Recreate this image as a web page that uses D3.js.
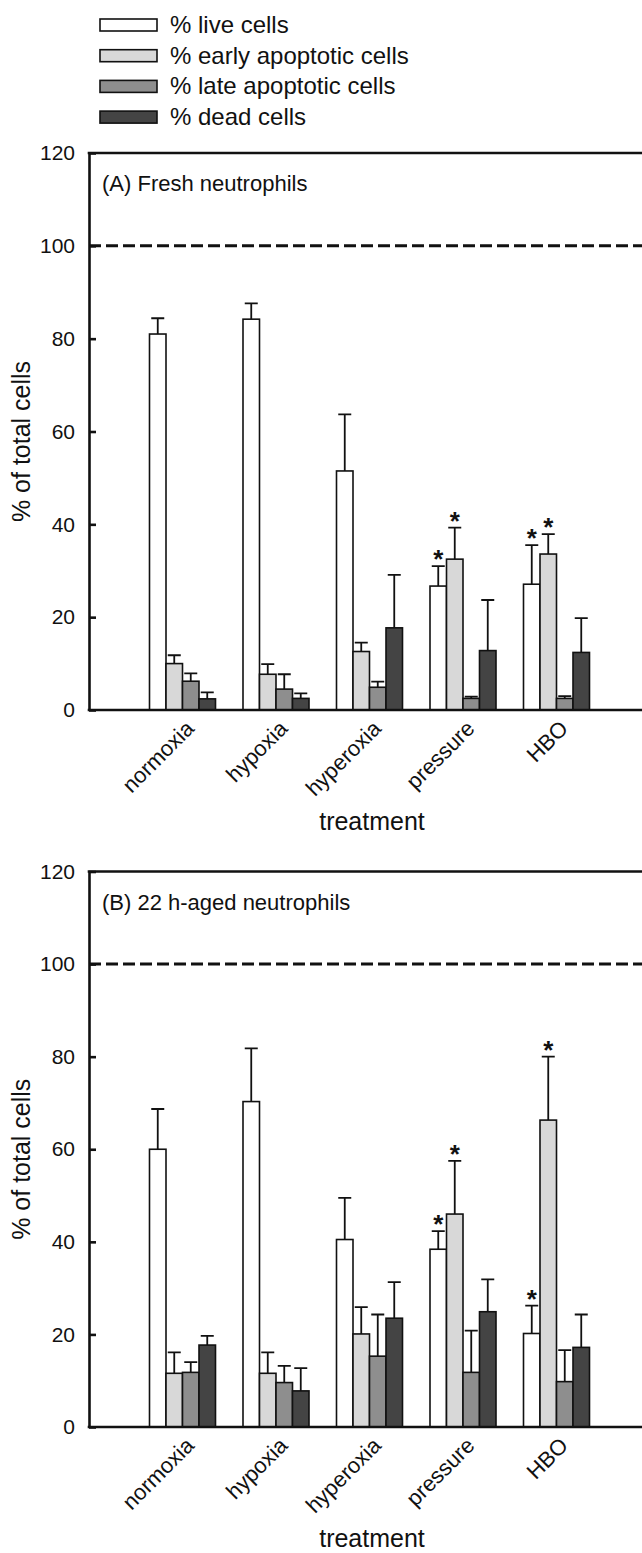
<!DOCTYPE html>
<html>
<head>
<meta charset="utf-8">
<script src="https://cdn.jsdelivr.net/npm/d3@7"></script>
<style>
  body { margin: 0; background: #fff; }
  text { font-family: "Liberation Sans", Arial, sans-serif; fill: #111; }
</style>
</head>
<body>
<div id="contenedor"></div>
<script>
// categorias y series
var categorias = ["normoxia", "hypoxia", "hyperoxia", "pressure", "HBO"]
var series = ["% live cells", "% early apoptotic cells", "% late apoptotic cells", "% dead cells"]
var colores = ["#ffffff", "#d8d8d8", "#8e8e8e", "#444444"]
var ticksY = [0, 20, 40, 60, 80, 100, 120]

// (A) fresh neutrophils: medias y error (SE, solo hacia arriba)
var frescoVivas = [81.0, 84.2, 51.5, 26.7, 27.1]
var frescoVivasErr = [3.4, 3.4, 12.2, 4.3, 8.4]
var frescoTempranas = [10.0, 7.7, 12.6, 32.5, 33.6]
var frescoTempranasErr = [1.8, 2.2, 1.9, 6.8, 4.3]
var frescoTardias = [6.2, 4.5, 4.9, 2.5, 2.5]
var frescoTardiasErr = [1.7, 3.2, 1.2, 0.4, 0.5]
var frescoMuertas = [2.4, 2.5, 17.7, 12.8, 12.4]
var frescoMuertasErr = [1.4, 1.1, 11.4, 10.9, 7.4]
var frescoEstrellas = [["pressure", 0], ["pressure", 1], ["HBO", 0], ["HBO", 1]]

// (B) 22 h-aged neutrophils
var viejoVivas = [60.0, 70.3, 40.5, 38.4, 20.2]
var viejoVivasErr = [8.7, 11.5, 9.0, 3.9, 6.0]
var viejoTempranas = [11.6, 11.6, 20.1, 46.0, 66.3]
var viejoTempranasErr = [4.5, 4.5, 5.8, 11.5, 13.7]
var viejoTardias = [11.8, 9.6, 15.3, 11.8, 9.8]
var viejoTardiasErr = [2.2, 3.6, 9.0, 9.0, 6.8]
var viejoMuertas = [17.7, 7.8, 23.5, 24.9, 17.2]
var viejoMuertasErr = [2.0, 4.9, 7.8, 7.0, 7.1]
var viejoEstrellas = [["pressure", 0], ["pressure", 1], ["HBO", 0], ["HBO", 1]]

var ancho = 642
var alto = 1553

var contenedor = d3.select("#contenedor")
    .append("svg")
    .attr("width", ancho)
    .attr("height", alto)

// leyenda
var leyenda = contenedor.append("g")
series.forEach(function(s, i) {
    var yc = 25 + i * 30.7
    leyenda.append("rect")
        .attr("x", 100).attr("y", yc - 6)
        .attr("width", 57).attr("height", 12)
        .attr("fill", colores[i])
        .attr("stroke", "#111").attr("stroke-width", 1.6)
    leyenda.append("text")
        .attr("x", 170).attr("y", yc + 8)
        .attr("font-size", 24)
        .text(s)
})

function panel(arriba, cero, titulo, medias, errores, estrellas) {
    var g = contenedor.append("g")

    var escalaX = d3.scaleLinear().domain([0, 6]).range([89, 650])
    var escalaY = d3.scaleLinear().domain([0, 120]).range([cero, arriba])
    var escalaSerie = d3.scaleBand().domain(d3.range(series.length)).range([-33, 33])

    var filas = []
    categorias.forEach(function(c, ci) {
        series.forEach(function(s, si) {
            filas.push({cat: c, ci: ci, si: si, v: medias[si][ci], e: errores[si][ci]})
        })
    })

    // linea discontinua en 100
    g.append("line")
        .attr("x1", escalaX(0)).attr("x2", escalaX(6))
        .attr("y1", escalaY(100)).attr("y2", escalaY(100))
        .attr("stroke", "#111").attr("stroke-width", 3)
        .attr("stroke-dasharray", "12,5")

    // barras de error
    var xb = function(d) { return escalaX(d.ci + 1) + escalaSerie(d.si) + escalaSerie.bandwidth() / 2 }
    g.selectAll(".err")
        .data(filas)
        .enter()
        .append("path")
        .attr("d", function(d) {
            var x = xb(d), y0 = escalaY(d.v), y1 = escalaY(d.v + d.e)
            return "M" + x + "," + y0 + "V" + y1 + "M" + (x - 6.5) + "," + y1 + "H" + (x + 6.5)
        })
        .attr("stroke", "#111").attr("stroke-width", 1.8).attr("fill", "none")

    // barras
    g.selectAll(".barra")
        .data(filas)
        .enter()
        .append("rect")
        .attr("x", function(d) { return escalaX(d.ci + 1) + escalaSerie(d.si) })
        .attr("y", function(d) { return escalaY(d.v) })
        .attr("width", escalaSerie.bandwidth())
        .attr("height", function(d) { return escalaY(0) - escalaY(d.v) })
        .attr("fill", function(d) { return colores[d.si] })
        .attr("stroke", "#111").attr("stroke-width", 1.6)

    // asteriscos
    g.selectAll(".estrella")
        .data(estrellas)
        .enter()
        .append("text")
        .attr("x", function(d) {
            var ci = categorias.indexOf(d[0])
            return escalaX(ci + 1) + escalaSerie(d[1]) + escalaSerie.bandwidth() / 2
        })
        .attr("y", function(d) {
            var ci = categorias.indexOf(d[0])
            return escalaY(medias[d[1]][ci] + errores[d[1]][ci]) + 2
        })
        .attr("text-anchor", "middle")
        .attr("font-size", 26)
        .attr("font-weight", "bold")
        .text("*")

    // ejes
    var ejeY = d3.axisLeft(escalaY).tickValues(ticksY).tickSizeInner(-7).tickSizeOuter(0).tickPadding(14)
    var gy = g.append("g").attr("transform", "translate(" + escalaX(0) + ",0)").call(ejeY)
    gy.select(".domain").attr("stroke", "#111").attr("stroke-width", 2.6)
    gy.selectAll(".tick line").attr("stroke", "#111").attr("stroke-width", 2.6)
    gy.selectAll(".tick text").attr("font-size", 21).attr("font-family", "Liberation Sans, Arial, sans-serif").attr("fill", "#111")

    g.append("line")
        .attr("x1", escalaX(0) - 1.3).attr("x2", escalaX(6))
        .attr("y1", escalaY(0)).attr("y2", escalaY(0))
        .attr("stroke", "#111").attr("stroke-width", 2.6)
    g.append("line")
        .attr("x1", escalaX(0) - 1.3).attr("x2", escalaX(6))
        .attr("y1", escalaY(120)).attr("y2", escalaY(120))
        .attr("stroke", "#111").attr("stroke-width", 2.6)
    g.append("line")
        .attr("x1", escalaX(6)).attr("x2", escalaX(6))
        .attr("y1", escalaY(0)).attr("y2", escalaY(120))
        .attr("stroke", "#111").attr("stroke-width", 2.6)

    // etiquetas categorias
    g.selectAll(".cat")
        .data(categorias)
        .enter()
        .append("text")
        .attr("transform", function(d, i) {
            return "translate(" + (escalaX(i + 1) + 2) + "," + (escalaY(0) + 9) + ") rotate(-45)"
        })
        .attr("text-anchor", "end")
        .attr("font-size", 22)
        .attr("dy", "0.7em")
        .text(function(d) { return d })

    g.append("text")
        .attr("x", 102).attr("y", arriba + 38)
        .attr("font-size", 22)
        .text(titulo)

    g.append("text")
        .attr("x", 372).attr("y", cero + 120)
        .attr("text-anchor", "middle")
        .attr("font-size", 25)
        .text("treatment")

    g.append("text")
        .attr("transform", "translate(30," + ((cero + arriba) / 2 + 10) + ") rotate(-90)")
        .attr("text-anchor", "middle")
        .attr("font-size", 25)
        .text("% of total cells")
}

panel(153, 710, "(A) Fresh neutrophils",
    [frescoVivas, frescoTempranas, frescoTardias, frescoMuertas],
    [frescoVivasErr, frescoTempranasErr, frescoTardiasErr, frescoMuertasErr],
    frescoEstrellas)

panel(871.5, 1427, "(B) 22 h-aged neutrophils",
    [viejoVivas, viejoTempranas, viejoTardias, viejoMuertas],
    [viejoVivasErr, viejoTempranasErr, viejoTardiasErr, viejoMuertasErr],
    viejoEstrellas)
</script>
</body>
</html>
